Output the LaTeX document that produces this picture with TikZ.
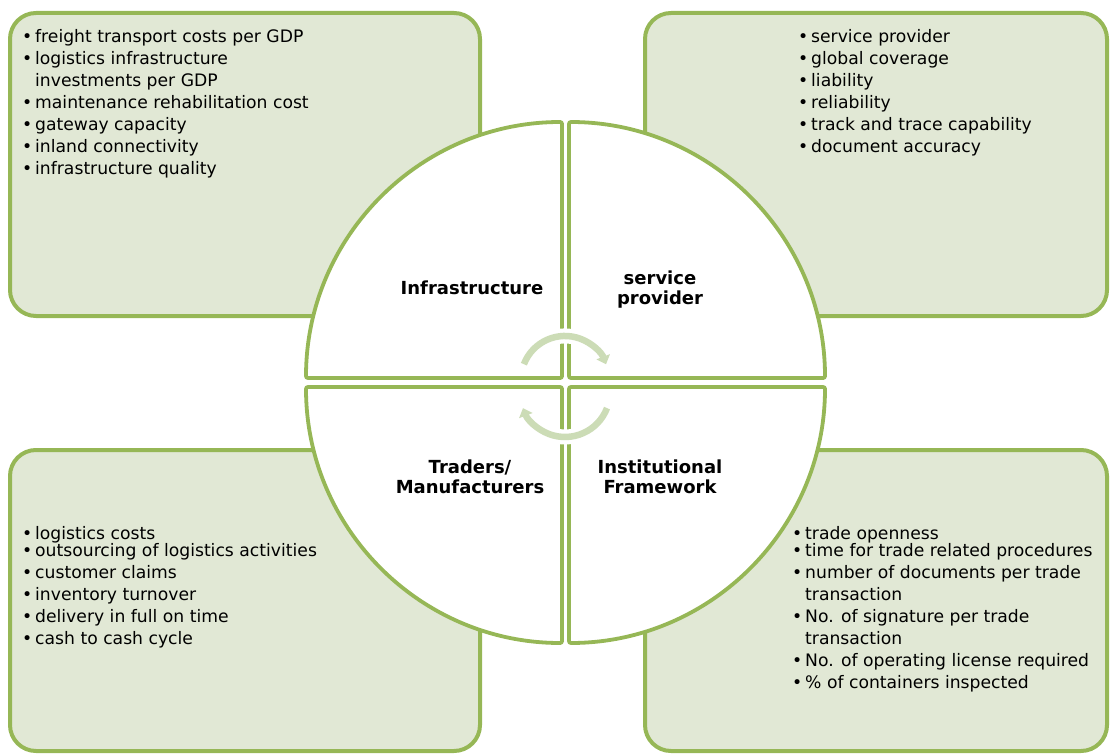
\documentclass[tikz,border=0pt]{standalone}
\usepackage{fontspec}
\setmainfont{DejaVu Sans}
\usetikzlibrary{arrows.meta}
\definecolor{gborder}{RGB}{150,183,86}
\definecolor{gfill}{RGB}{225,232,213}
\definecolor{garrow}{RGB}{204,220,182}
\tikzset{
  panel/.style={draw=gborder, fill=gfill, line width=4pt, rounded corners=26pt},
  quad/.style={draw=gborder, fill=white, line width=3.8pt, rounded corners=2pt},
  cycunder/.style={draw=white, line width=15pt},
  cyc/.style={draw=garrow, line width=6.5pt, -{Triangle[width=14pt,length=8pt]}},
  lst/.style={align=left, inner sep=0pt, anchor=base west, font=\fontsize{17.2}{22}\selectfont},
  lbl/.style={align=center, inner sep=0pt, anchor=base, font=\fontsize{18}{20}\selectfont\bfseries},
}
\newcommand\bu{\makebox[13pt][l]{•}}
\newcommand\ind{\hspace*{13pt}}
\begin{document}
\begin{tikzpicture}[x=1pt,y=1pt]
\useasboundingbox (0,0) rectangle (1110,-754);
% corner panels
\draw[panel] (10,-13) rectangle (480,-316);
\draw[panel] (645,-13) rectangle (1107,-316);
\draw[panel] (10,-450) rectangle (480,-751);
\draw[panel] (645,-450) rectangle (1107,-751);
% quadrants
\draw[quad] (562,-378) -- (306,-378) arc[start angle=180, end angle=90, radius=256] -- cycle;
\draw[quad] (569,-378) -- (569,-122) arc[start angle=90, end angle=0, radius=256] -- cycle;
\draw[quad] (562,-387) -- (562,-643) arc[start angle=270, end angle=180, radius=256] -- cycle;
\draw[quad] (569,-387) -- (825,-387) arc[start angle=0, end angle=-90, radius=256] -- cycle;
% circular arrows
\draw[cycunder] (523.9,-364.2) arc[start angle=159, end angle=21, radius=44];
\draw[cyc] (523.9,-364.2) arc[start angle=159, end angle=21, radius=44];
\draw[cycunder] (607.0,-408.1) arc[start angle=-21, end angle=-159, radius=45];
\draw[cyc] (607.0,-408.1) arc[start angle=-21, end angle=-159, radius=45];
% quadrant labels (anchored at the baseline of the last line)
\node[lbl] (infra) at (472,-294) {Infrastructure};
\node[lbl] (serv) at (660,-304) {service\\provider};
\node[lbl] (trad) at (470,-493) {Traders/\\Manufacturers};
\node[lbl] (inst) at (660,-493) {Institutional\\Framework};
% lists (anchored at the baseline of the last line)
\node[lst] (tl) at (22,-175) {\bu freight transport costs per GDP\\
\bu logistics infrastructure\\
\ind investments per GDP\\
\bu maintenance rehabilitation cost\\
\bu gateway capacity\\
\bu inland connectivity\\
\bu infrastructure quality};
\node[lst] (tr) at (798,-153) {\bu service provider\\
\bu global coverage\\
\bu liability\\
\bu reliability\\
\bu track and trace capability\\
\bu document accuracy};
\node[lst] (bl) at (22,-644) {\bu logistics costs\\[-5pt]
\bu outsourcing of logistics activities\\
\bu customer claims\\
\bu inventory turnover\\
\bu delivery in full on time\\
\bu cash to cash cycle};
\node[lst] (br) at (792,-688) {\bu trade openness\\[-5pt]
\bu time for trade related procedures\\
\bu number of documents per trade\\
\ind transaction\\
\bu No. of signature per trade\\
\ind transaction\\
\bu No. of operating license required\\
\bu \% of containers inspected};
\end{tikzpicture}
\end{document}
